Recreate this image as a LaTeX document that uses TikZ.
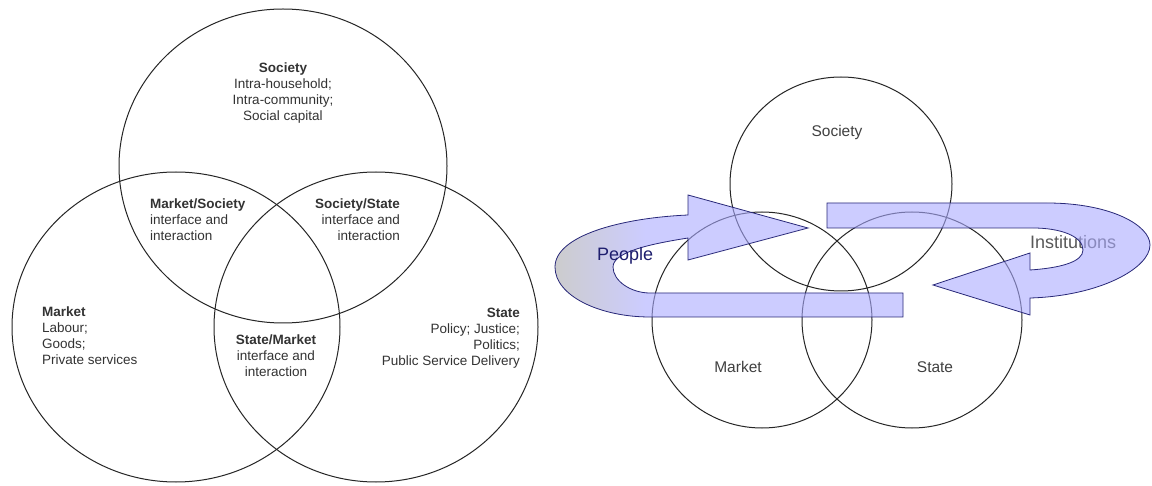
\documentclass[tikz,border=0pt]{standalone}
\usepackage{fontspec}
\setmainfont{Liberation Sans}
\definecolor{lav}{RGB}{170,170,255}
\definecolor{lavmix}{RGB}{204,204,255}
\definecolor{navyline}{RGB}{40,40,120}
\definecolor{peopletext}{RGB}{30,30,110}
\def\peoplepath{(808,228) -- (688,260) -- (688,238)
  .. controls (650,244) and (613,252) .. (613,267)
  .. controls (613,281) and (631,293) .. (650,293)
  -- (903,293) -- (903,317) -- (650,317)
  .. controls (600,317) and (555,296) .. (555,267)
  .. controls (555,236) and (620,218) .. (688,215)
  -- (688,195) -- cycle}
\def\instpath{(933,285) -- (1030,253) -- (1030,270)
  .. controls (1060,268) and (1083,262) .. (1083,250)
  .. controls (1083,236) and (1060,228) .. (1033,228)
  -- (827,228) -- (827,203) -- (1047,203)
  .. controls (1110,203) and (1150,225) .. (1150,245)
  .. controls (1150,268) and (1100,296) .. (1030,298)
  -- (1030,315) -- cycle}
\begin{document}
\begin{tikzpicture}[x=1pt,y=-1pt,
  venn/.style={draw=black!85, line width=1pt},
  lbl/.style={font=\fontsize{13.5}{16}\selectfont, text=black!80, inner sep=0pt},
  rlbl/.style={font=\fontsize{15.5}{18}\selectfont, text=black!75, inner sep=0pt},
  arrowfill/.style={fill=lav, fill opacity=0.6},
  arrowline/.style={draw=navyline, line width=0.8pt},
  arrowlbl/.style={font=\fontsize{18}{20}\selectfont, inner sep=0pt}]
\useasboundingbox (0,0) rectangle (1152,486);
\fill[white] (0,0) rectangle (1152,486);

% ---------- left Venn diagram ----------
\draw[venn] (283,166) ellipse [x radius=164, y radius=157];
\draw[venn] (176,327) ellipse [x radius=164, y radius=155];
\draw[venn] (376,327) ellipse [x radius=162, y radius=155];

\node[lbl, align=center, anchor=north] (soc) at (283,63)
  {\textbf{Society}\\Intra-household;\\Intra-community;\\Social capital};
\node[lbl, align=left, anchor=north west] (mktsoc) at (150,199)
  {\textbf{Market/Society}\\interface and\\interaction};
\node[lbl, align=right, anchor=north east] (socsta) at (400,199)
  {\textbf{Society/State}\\interface and\\interaction};
\node[lbl, align=left, anchor=north west] (mkt) at (42,307)
  {\textbf{Market}\\Labour;\\Goods;\\Private services};
\node[lbl, align=right, anchor=north east] (sta) at (520,308)
  {\textbf{State}\\Policy; Justice;\\Politics;\\Public Service Delivery};
\node[lbl, align=center, anchor=north] (stamkt) at (276,335)
  {\textbf{State/Market}\\interface and\\interaction};

% ---------- right diagram ----------
\draw[venn] (841,184) ellipse [x radius=111, y radius=107];
\draw[venn] (762,320) ellipse [x radius=110, y radius=108];
\draw[venn] (912,320) ellipse [x radius=110, y radius=108];

\node[rlbl] (rsoc) at (837,132) {Society};
\node[rlbl] (rmkt) at (738,367) {Market};
\node[rlbl] (rsta) at (935,367) {State};

% label partly covered by the arrow
\node[arrowlbl, text=black!65, anchor=west] (inst) at (1030,242) {Institutions};

% People arrow
\fill[arrowfill] \peoplepath;
\begin{scope}
  \clip \peoplepath;
  \shade[left color=gray!40!white, right color=lavmix] (553,190) rectangle (645,320);
\end{scope}
\draw[arrowline] \peoplepath;
% Institutions arrow
\fill[arrowfill] \instpath;
\draw[arrowline] \instpath;

\node[arrowlbl, text=peopletext, anchor=west] (people) at (597,256) {People};
\end{tikzpicture}
\end{document}
